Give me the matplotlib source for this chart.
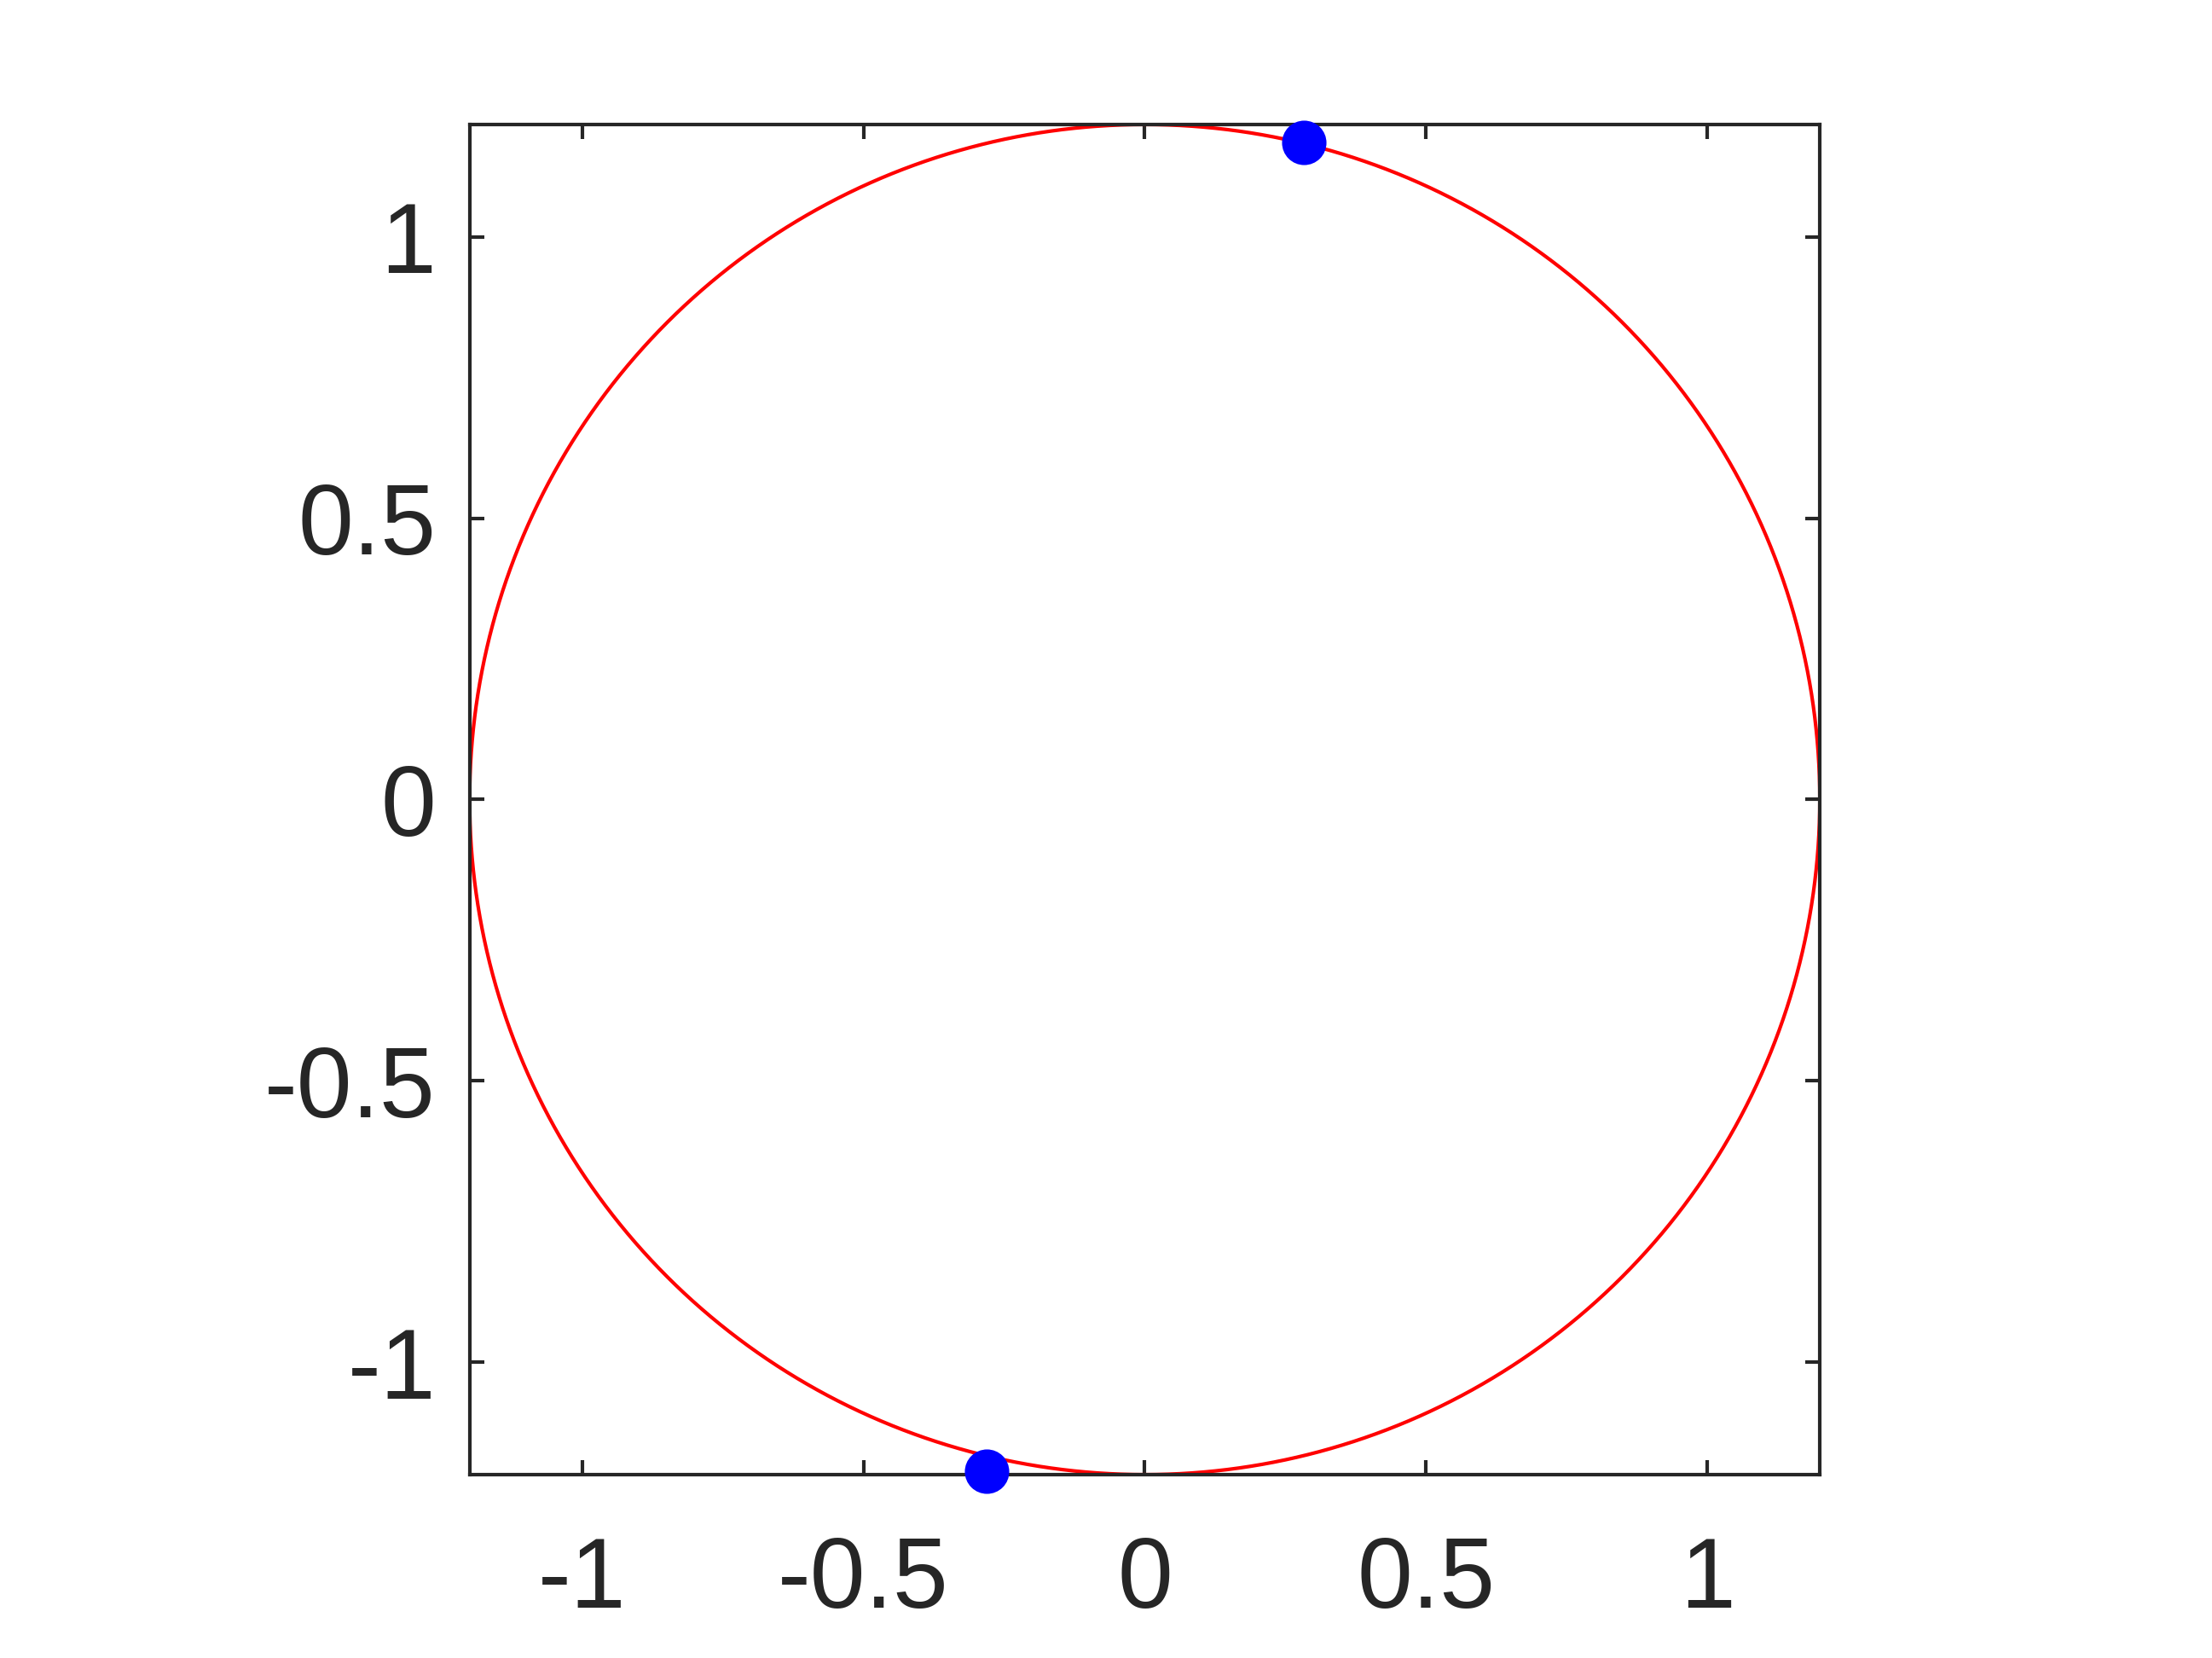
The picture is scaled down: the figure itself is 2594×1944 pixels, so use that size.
import numpy as np
import matplotlib
matplotlib.use("Agg")
import matplotlib.pyplot as plt

# data
radius = 1.2
point_x = [0.2825, -0.2806]
point_y = [1.1686, -1.194]
ticks = [-1, -0.5, 0, 0.5, 1]
tick_labels = ["-1", "-0.5", "0", "0.5", "1"]

plt.rcParams['font.family'] = ['Liberation Sans', 'DejaVu Sans']

W, H, DPI = 2594, 1944, 300
fig = plt.figure(figsize=(W / DPI, H / DPI), dpi=DPI)
ax = fig.add_axes([0.2123, 0.1106, 0.6104, 0.8143])

theta = np.linspace(0, 2 * np.pi, 721)
ax.plot(radius * np.cos(theta), radius * np.sin(theta), color='#ff0000', lw=1.0)
ax.plot(point_x, point_y, 'o', color='#0000ff', ms=11.5, mec='#0000ff', clip_on=False, zorder=3)

ax.set_xlim(-radius, radius)
ax.set_ylim(-radius, radius)
ax.set_xticks(ticks)
ax.set_xticklabels(tick_labels)
ax.set_yticks(ticks)
ax.set_yticklabels(tick_labels)

dark = '#262626'
for s in ax.spines.values():
    s.set_color(dark)
    s.set_linewidth(1.0)
ax.tick_params(direction='in', length=4, width=1.0, colors=dark, labelsize=28,
               top=True, right=True, labelcolor=dark)
ax.tick_params(axis='x', pad=17)
ax.tick_params(axis='y', pad=9.5)

fig.savefig('out.png', dpi=DPI, facecolor='white')
